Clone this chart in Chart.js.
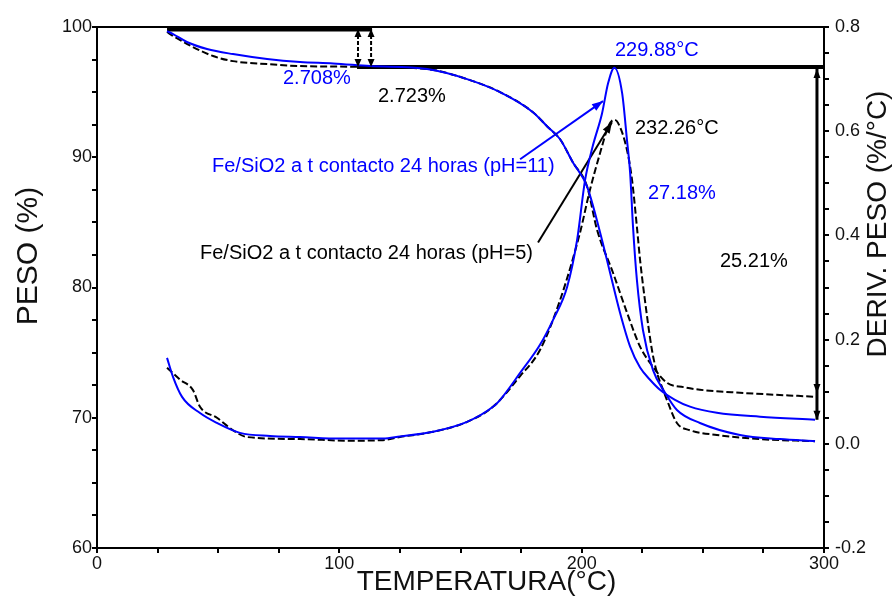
<!DOCTYPE html>
<html><head><meta charset="utf-8">
<script src="https://cdn.jsdelivr.net/npm/chart.js@4"></script>
<style>html,body{margin:0;padding:0;background:#fff}#c{display:block}</style>
</head><body>
<canvas id="c" width="896" height="598" style="width:896px;height:598px"></canvas>
<script>
// ---------- DATA ----------
// TGA (weight %, left axis) - Fe/SiO2 pH=11 (blue, solid)
const tgaBlueT = [28.9,31.4,37.1,45.4,56.1,70.2,83.8,97.4,112.7,136.2,152.7,166.3,179.9,185.7,191.1,196.4,202.2,207.6,211.7,215.8,220.0,224.1,228.2,232.3,238.5,244.7,255.8,273.6,296.3];
const tgaBlueW = [99.69,99.46,98.85,98.31,97.92,97.54,97.31,97.2,97.0,96.77,96.0,95.0,93.46,92.38,91.38,89.6,87.77,84.23,81.15,78.08,75.46,73.85,72.92,72.15,71.38,70.85,70.38,70.08,69.85];
// TGA - Fe/SiO2 pH=5 (black, dashed)
const tgaBlackT = [28.9,31.4,39.6,47.9,56.1,70.2,83.8,107.3,136.2,152.7,166.3,179.9,185.7,191.1,196.4,202.2,206.3,212.9,218.7,224.1,229.4,235.2,242.0,248.8,265.3,295.5];
const tgaBlackW = [99.62,99.31,98.46,97.77,97.38,97.15,97.0,96.95,96.77,96.0,95.0,93.46,92.38,91.38,89.6,87.77,84.46,81.15,78.08,75.46,73.92,72.69,72.35,72.15,71.92,71.62];
// DTG (deriv. weight %/°C, right axis) - pH=11 (blue)
const dtgBlueT = [28.9,31.4,35.1,42.5,49.5,59.0,71.4,83.8,100.3,118.0,125.0,138.7,152.7,163.4,166.3,174.6,182.8,188.2,194.0,198.1,201.4,204.5,208.4,210.9,213.5,216.7,218.7,220.0,221.2,222.8,225.3,229.4,234.4,239.3,248.8,265.3,281.8,296.3];
const dtgBlueD = [0.165,0.128,0.090,0.059,0.040,0.021,0.015,0.013,0.010,0.010,0.014,0.023,0.042,0.071,0.084,0.136,0.190,0.238,0.301,0.391,0.506,0.570,0.634,0.692,0.722,0.673,0.583,0.520,0.416,0.314,0.218,0.142,0.098,0.065,0.040,0.017,0.009,0.005];
// DTG - pH=5 (black)
const dtgBlackT = [28.9,34.3,39.6,42.5,49.5,56.1,61.9,83.8,104.4,118.0,125.0,138.7,152.7,163.4,174.6,182.8,191.1,199.3,203.4,207.6,210.9,213.3,215.0,218.7,220.8,222.8,224.1,226.1,229.0,231.1,233.5,235.2,239.3,244.7,255.8,273.6,296.3];
const dtgBlackD = [0.146,0.123,0.103,0.071,0.050,0.026,0.013,0.009,0.006,0.007,0.013,0.023,0.042,0.071,0.130,0.180,0.276,0.405,0.487,0.558,0.608,0.622,0.616,0.564,0.506,0.416,0.353,0.276,0.180,0.136,0.105,0.084,0.040,0.026,0.017,0.009,0.005];

// reference lines (weight %)
const refTopT = [28.9,113.5];  const refTopW = [99.85,99.85];
const refLowT = [107.3,300];   const refLowW = [96.92,96.92];
const arrowAT = [107.7,107.7]; const arrowAW = [99.85,96.92];
const arrowBT = [113.1,113.1]; const arrowBW = [99.85,96.92];
const arrowRT = [297.1,297.1]; const arrowRW = [96.92,69.85];
const blackEndW = 71.9;
// leader arrows (from label to peak), in weight-axis coordinates
const leadBlueT = [174.6,208.8]; const leadBlueW = [89.85,94.31];
const leadBlackT = [182.0,212.5]; const leadBlackW = [83.46,92.69];

const BLUE = '#0000ff', BLACK = '#000000';
const FAM = "'Liberation Sans', Arial, Helvetica, sans-serif";

const labels = [
  {t:'2.708%', c:BLUE, x:283, y:78},
  {t:'2.723%', c:BLACK, x:378, y:96},
  {t:'229.88°C', c:BLUE, x:615, y:50},
  {t:'232.26°C', c:BLACK, x:635, y:128},
  {t:'27.18%', c:BLUE, x:648, y:193},
  {t:'25.21%', c:BLACK, x:720, y:261},
  {t:'Fe/SiO2 a t contacto 24 horas (pH=11)', c:BLUE, x:212, y:166},
  {t:'Fe/SiO2 a t contacto 24 horas (pH=5)', c:BLACK, x:200, y:253}
];

const pts = (xs, ys) => xs.map((x,i)=>({x:x, y:ys[i]}));

function head(ctx, x1,y1,x2,y2,len,wid,color){
  const a = Math.atan2(y2-y1, x2-x1);
  ctx.save();
  ctx.fillStyle = color;
  ctx.translate(x2,y2); ctx.rotate(a);
  ctx.beginPath(); ctx.moveTo(0,0); ctx.lineTo(-len, wid/2); ctx.lineTo(-len,-wid/2); ctx.closePath(); ctx.fill();
  ctx.restore();
}

const annot = {
  id:'annot',
  afterDatasetsDraw(chart){
    const ctx = chart.ctx, xs = chart.scales.x, ys = chart.scales.y, a = chart.chartArea;
    const P = (t,w)=>[xs.getPixelForValue(t), ys.getPixelForValue(w)];
    ctx.save();
    // top frame
    ctx.strokeStyle = BLACK; ctx.lineWidth = 2;
    ctx.beginPath(); ctx.moveTo(a.left, a.top); ctx.lineTo(a.right, a.top); ctx.stroke();
    // arrowheads on small vertical arrows
    [[arrowAT,arrowAW],[arrowBT,arrowBW]].forEach(([T,W])=>{
      const [x1,y1] = P(T[0],W[0]), [x2,y2] = P(T[1],W[1]);
      head(ctx, x1,y1+12, x1,y1, 8,7,BLACK);
      head(ctx, x2,y2-12, x2,y2, 8,7,BLACK);
    });
    // right arrow
    {
      const [x1,y1] = P(arrowRT[0],arrowRW[0]), [x2,y2] = P(arrowRT[1],arrowRW[1]);
      head(ctx, x1,y1+14, x1,y1+2, 9,7,BLACK);
      const yb = ys.getPixelForValue(blackEndW);
      head(ctx, x1,yb-14, x1,yb, 9,7,BLACK);
      head(ctx, x2,y2-14, x2,y2, 9,7,BLACK);
    }
    // leader arrows heads
    {
      let [x1,y1] = P(leadBlueT[0],leadBlueW[0]), [x2,y2] = P(leadBlueT[1],leadBlueW[1]);
      head(ctx, x1,y1,x2,y2, 11,8,BLUE);
      [x1,y1] = P(leadBlackT[0],leadBlackW[0]); [x2,y2] = P(leadBlackT[1],leadBlackW[1]);
      head(ctx, x1,y1,x2,y2, 11,8,BLACK);
    }
    // labels
    ctx.font = '20px ' + FAM; ctx.textBaseline = 'middle'; ctx.textAlign = 'left';
    labels.forEach(l=>{ ctx.fillStyle = l.c; ctx.fillText(l.t, l.x, l.y); });
    // axis titles
    ctx.fillStyle = '#111'; ctx.textAlign = 'center';
    ctx.font = '28px ' + FAM;
    ctx.fillText('TEMPERATURA(°C)', (a.left+a.right)/2 + 26, 582);
    ctx.save(); ctx.translate(29, 256); ctx.rotate(-Math.PI/2);
    ctx.font = '30px ' + FAM; ctx.fillText('PESO (%)', 0, 0); ctx.restore();
    ctx.save(); ctx.translate(878, 224); ctx.rotate(-Math.PI/2);
    ctx.font = '28px ' + FAM; ctx.fillText('DERIV. PESO (%/°C)', 0, 0); ctx.restore();
    ctx.restore();
  }
};

const line = (data, color, width, dash, axis, extra) => Object.assign({
  data: data, borderColor: color, backgroundColor: color, borderWidth: width,
  borderDash: dash || [], pointRadius: 0, fill: false, yAxisID: axis || 'y', clip: false, tension: 0
}, extra || {});

const smooth = {cubicInterpolationMode:'monotone'};

const tickFont = {size:18, family:FAM};
new Chart(document.getElementById('c'), {
  type: 'line',
  data: { datasets: [
    line(pts(tgaBlueT,tgaBlueW), BLUE, 2, null, 'y', smooth),
    line(pts(dtgBlueT,dtgBlueD), BLUE, 2, null, 'y1', smooth),
    line(pts(tgaBlackT,tgaBlackW), BLACK, 2, [7,3], 'y', smooth),
    line(pts(dtgBlackT,dtgBlackD), BLACK, 2, [7,3], 'y1', smooth),
    line(pts(refTopT,refTopW), BLACK, 5),
    line(pts(refLowT,refLowW), BLACK, 4),
    line(pts(arrowAT,arrowAW), BLACK, 2, [4,2]),
    line(pts(arrowBT,arrowBW), BLACK, 2, [4,2]),
    line(pts(arrowRT,arrowRW), BLACK, 3),
    line(pts(leadBlueT,leadBlueW), BLUE, 2),
    line(pts(leadBlackT,leadBlackW), BLACK, 2)
  ]},
  options: {
    responsive:false, animation:false, devicePixelRatio:1,
    layout:{padding:{top:27,left:0,right:0,bottom:0}},
    plugins:{legend:{display:false}, tooltip:{enabled:false}},
    scales:{
      x:{type:'linear', position:'bottom', min:0, max:300,
        ticks:{stepSize:25, autoSkip:false, maxRotation:0, padding:0, color:'#111', font:tickFont,
          callback:v=> (v%100===0 ? String(v) : '')},
        grid:{drawOnChartArea:false, tickLength:5, color:BLACK, lineWidth:2},
        border:{display:true, color:BLACK, width:2},
        afterFit:s=>{s.height=50;}},
      y:{type:'linear', position:'left', min:60, max:100,
        ticks:{stepSize:2.5, autoSkip:false, padding:0, color:'#111', font:tickFont,
          callback:v=> (v%10===0 ? String(v) : '')},
        grid:{drawOnChartArea:false, tickLength:5, color:BLACK, lineWidth:2},
        border:{display:true, color:BLACK, width:2},
        afterFit:s=>{s.width=97;}},
      y1:{type:'linear', position:'right', min:-0.2, max:0.8,
        ticks:{stepSize:0.05, autoSkip:false, padding:6, color:'#111', font:tickFont,
          callback:v=>{ const r=Math.round(v*100); return (r%20===0) ? (r/100).toFixed(1) : ''; }},
        grid:{drawOnChartArea:false, tickLength:5, color:BLACK, lineWidth:2},
        border:{display:true, color:BLACK, width:2},
        afterFit:s=>{s.width=72;}}
    }
  },
  plugins:[annot]
});
</script>
</body></html>
